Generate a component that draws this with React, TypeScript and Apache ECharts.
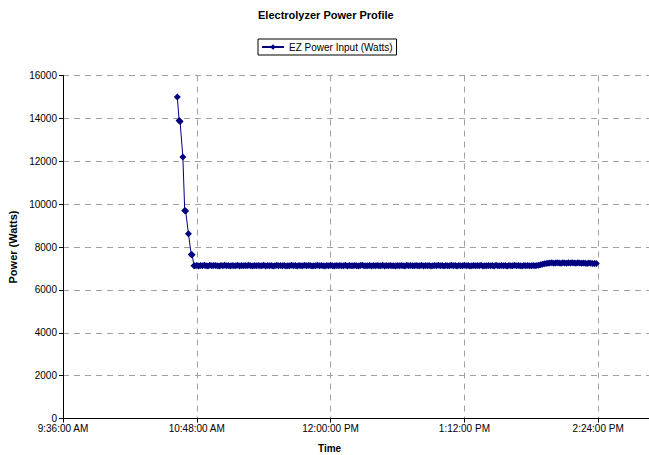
import React, { useEffect, useRef } from 'react';
import * as echarts from 'echarts';

// Time in minutes since midnight, power in watts
const spikeTimes = [637.5, 638.5, 639, 640.5, 641.5, 642, 643.5, 645, 645.5, 646.5];
const spikeWatts = [15000, 13900, 13850, 12200, 9700, 9680, 8620, 7650, 7640, 7120];

// Steady-state samples, one per minute starting at 10:47
const steadyStart = 647;
const steadyStep = 1;
const steadyWatts = [
  7120, 7135, 7110, 7140, 7125, 7150, 7130, 7115, 7145, 7120, 7135, 7140,
  7125, 7110, 7140, 7130, 7150, 7120, 7135, 7115, 7140, 7125, 7130, 7145,
  7110, 7135, 7125, 7140, 7120, 7150, 7130, 7115, 7135, 7125, 7140, 7120,
  7130, 7145, 7115, 7135, 7125, 7140, 7110, 7130, 7150, 7120, 7135, 7125,
  7140, 7115, 7130, 7125, 7145, 7120, 7135, 7110, 7140, 7130, 7125, 7150,
  7120, 7135, 7140, 7115, 7130, 7125, 7145, 7120, 7135, 7130, 7110, 7140,
  7125, 7150, 7130, 7115, 7135, 7120, 7140, 7125, 7130, 7145, 7115, 7135,
  7130, 7120, 7140, 7125, 7110, 7135, 7145, 7120, 7130, 7125, 7140, 7115,
  7135, 7125, 7140, 7120, 7130, 7150, 7115, 7135, 7125, 7140, 7120, 7130,
  7110, 7135, 7125, 7140, 7130, 7115, 7145, 7120, 7135, 7125, 7130, 7140,
  7120, 7130, 7145, 7115, 7135, 7125, 7140, 7110, 7130, 7135, 7120, 7145,
  7125, 7135, 7115, 7140, 7130, 7120, 7150, 7125, 7135, 7110, 7140, 7130,
  7120, 7145, 7125, 7135, 7115, 7130, 7140, 7120, 7135, 7125, 7145, 7115,
  7130, 7125, 7140, 7120, 7135, 7110, 7145, 7130, 7125, 7140, 7120, 7135,
  7115, 7140, 7130, 7125, 7145, 7120, 7135, 7130, 7110, 7140, 7125, 7135,
  7120, 7130, 7140, 7125, 7135, 7150, 7170, 7195, 7215, 7230, 7240, 7250,
  7260, 7245, 7255, 7270, 7250, 7240, 7265, 7255, 7245, 7260, 7250, 7270,
  7255, 7245, 7260, 7250, 7240, 7255, 7245, 7235, 7250, 7240, 7230, 7235,
  7225,
];

const seriesName = 'EZ Power Input (Watts)';
const chartTitle = 'Electrolyzer Power Profile';
const xTitle = 'Time';
const yTitle = 'Power (Watts)';

const font = 'Arial, "Liberation Sans", sans-serif';

function fmtTime(v: number): string {
  const total = Math.round(v);
  let h = Math.floor(total / 60);
  const m = total % 60;
  const ampm = h >= 12 ? 'PM' : 'AM';
  h = h % 12;
  if (h === 0) h = 12;
  return `${h}:${m < 10 ? '0' + m : m}:00 ${ampm}`;
}

export default function App() {
  const ref = useRef<HTMLDivElement>(null);
  useEffect(() => {
    if (!ref.current) return;
    const chart = echarts.init(ref.current, null, { renderer: 'svg' });
    const data: number[][] = [];
    spikeTimes.forEach((t, i) => data.push([t, spikeWatts[i]]));
    steadyWatts.forEach((w, i) => data.push([steadyStart + i * steadyStep, w]));

    chart.setOption({
      animation: false,
      backgroundColor: '#ffffff',
      textStyle: { fontFamily: font },
      graphic: [
        {
          type: 'text',
          left: 258,
          top: 9,
          style: { text: chartTitle, font: `bold 11px ${font}`, fill: '#000' },
        },
        {
          type: 'text',
          left: 318,
          top: 443,
          style: { text: xTitle, font: `bold 10px ${font}`, fill: '#000' },
        },
      ],
      legend: {
        data: [seriesName],
        left: 258,
        top: 39,
        borderColor: '#000',
        borderWidth: 1,
        borderRadius: 0,
        padding: [3, 4, 3, 3],
        itemWidth: 22,
        itemHeight: 7,
        itemGap: 4,
        textStyle: { fontSize: 10, color: '#000', fontFamily: font },
      },
      grid: { left: 63, right: 8, top: 75.5, bottom: 36.5, outerBoundsMode: 'none', containLabel: false },
      xAxis: {
        type: 'value',
        min: 576,
        max: 936,
        interval: 72,
        axisLine: { lineStyle: { color: '#000', width: 1 } },
        axisTick: { show: true, length: 4, lineStyle: { color: '#000' } },
        axisLabel: {
          formatter: (v: number) => fmtTime(v),
          fontSize: 10,
          color: '#000',
          margin: 5,
          fontFamily: font,
          showMaxLabel: false,
          hideOverlap: false,
        },
        splitLine: {
          show: true,
          lineStyle: { color: '#a0a0a0', type: [6, 5], width: 1 },
        },
      },
      yAxis: {
        type: 'value',
        min: 0,
        max: 16000,
        interval: 2000,
        name: yTitle,
        nameLocation: 'middle',
        nameGap: 41,
        nameTextStyle: { fontWeight: 'bold', fontSize: 11, color: '#000', fontFamily: font },
        axisLine: { show: true, lineStyle: { color: '#000', width: 1 } },
        axisTick: { show: true, length: 4, lineStyle: { color: '#000' } },
        axisLabel: {
          fontSize: 10,
          color: '#000',
          margin: 6,
          fontFamily: font,
          formatter: (v: number) => String(v),
        },
        splitLine: {
          show: true,
          lineStyle: { color: '#a0a0a0', type: [6, 5], width: 1 },
        },
      },
      series: [
        {
          name: seriesName,
          type: 'line',
          data,
          symbol: 'diamond',
          symbolSize: 7,
          showAllSymbol: true,
          color: '#000080',
          itemStyle: { color: '#000080' },
          lineStyle: { color: '#000080', width: 1 },
          clip: true,
        },
      ],
    });
    return () => chart.dispose();
  }, []);
  return (
    <div
      style={{ position: 'fixed', left: 0, top: 0, width: 649, height: 455, overflow: 'hidden', background: '#fff' }}
    >
      <div ref={ref} style={{ width: 740, height: 455 }} />
    </div>
  );
}
